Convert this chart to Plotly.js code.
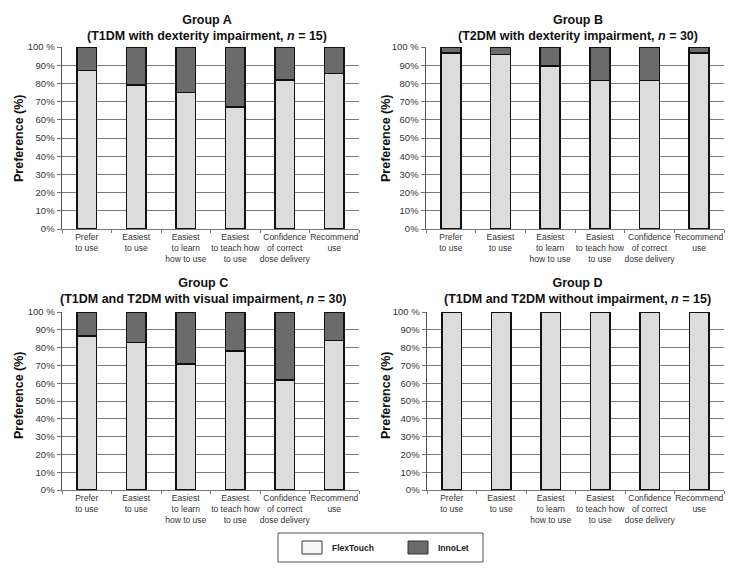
<!DOCTYPE html>
<html>
<head>
<meta charset="utf-8">
<script src="https://cdn.plot.ly/plotly-3.0.1.min.js"></script>
<style>html,body{margin:0;padding:0;background:#fff;}#chart{width:748px;height:578px;}</style>
</head>
<body>
<div id="chart"></div>
<script>
const categories = [
  "Prefer<br>to use",
  "Easiest<br>to use",
  "Easiest<br>to learn<br>how to use",
  "Easiest<br>to teach how<br>to use",
  "Confidence<br>of correct<br>dose delivery",
  "Recommend<br>use"
];
const seriesNames = ["FlexTouch", "InnoLet"];
const groupTitles = [
  "Group A<br>(T1DM with dexterity impairment, <i>n</i> = 15)",
  "Group B<br>(T2DM with dexterity impairment, <i>n</i> = 30)",
  "Group C<br>(T1DM and T2DM with visual impairment, <i>n</i> = 30)",
  "Group D<br>(T1DM and T2DM without impairment, <i>n</i> = 15)"
];
const flexA = [87, 79, 75, 67, 82, 85.5];
const innoA = [13, 21, 25, 33, 18, 14.5];
const flexB = [96.7, 96, 89.5, 81.7, 81.7, 96.7];
const innoB = [3.3, 4, 10.5, 18.3, 18.3, 3.3];
const flexC = [86.4, 83, 70.8, 78.1, 61.7, 84.1];
const innoC = [13.6, 17, 29.2, 21.9, 38.3, 15.9];
const flexD = [100, 100, 100, 100, 100, 100];
const innoD = [0, 0, 0, 0, 0, 0];
const yTickVals = [0, 10, 20, 30, 40, 50, 60, 70, 80, 90, 100];
const yTickText = ["0%", "10%", "20%", "30%", "40%", "50%", "60%", "70%", "80%", "90%", "100 %"];
const yTitle = "Preference (%)";

const W = 748, H = 578;
const px = x => x / W;
const py = y => 1 - y / H;

const flexColor = "#dcdcdc", innoColor = "#6b6b6b";
const groups = [[flexA, innoA], [flexB, innoB], [flexC, innoC], [flexD, innoD]];
const traces = [];
groups.forEach((g, i) => {
  const ax = i === 0 ? "" : String(i + 1);
  traces.push({type: "bar", x: categories, y: g[0], name: seriesNames[0], xaxis: "x" + ax, yaxis: "y" + ax,
    marker: {color: flexColor, line: {color: "#111", width: 1.5}}, showlegend: false, hoverinfo: "y"});
  traces.push({type: "bar", x: categories, y: g[1], name: seriesNames[1], xaxis: "x" + ax, yaxis: "y" + ax,
    marker: {color: innoColor, line: {color: "#111", width: 1.5}}, showlegend: false, hoverinfo: "y"});
});

const xDomains = [[px(62), px(359)], [px(426), px(724)], [px(62), px(359)], [px(427), px(724)]];
const yDomains = [[py(229), py(47)], [py(229), py(47)], [py(490), py(312)], [py(490), py(312)]];

const layout = {
  width: W, height: H,
  margin: {l: 0, r: 0, t: 0, b: 0},
  paper_bgcolor: "#fff", plot_bgcolor: "#fff",
  barmode: "stack", bargap: 0.6,
  font: {family: "Liberation Sans, Arial, sans-serif", color: "#222"},
  annotations: [], shapes: []
};
for (let i = 0; i < 4; i++) {
  const ax = i === 0 ? "" : String(i + 1);
  layout["xaxis" + ax] = {
    domain: xDomains[i], anchor: "y" + ax, type: "category",
    showline: true, linecolor: "#777", linewidth: 1,
    ticks: "outside", tickson: "boundaries", ticklen: 3, tickcolor: "#777",
    tickfont: {size: 8.5, color: "#333"}, showgrid: false, fixedrange: true, tickangle: 0
  };
  layout["yaxis" + ax] = {
    domain: yDomains[i], anchor: "x" + ax, range: [0, 100],
    tickvals: yTickVals, ticktext: yTickText,
    showline: true, linecolor: "#555", linewidth: 1.5,
    ticks: "outside", ticklen: 4, tickcolor: "#777",
    showgrid: true, gridcolor: "#7a7a7a", gridwidth: 1,
    zeroline: false, tickfont: {size: 9.5, color: "#333"}, fixedrange: true
  };
}
const titleX = [207, 578, 204, 577];
const titleY = [27.5, 27.5, 290.5, 290.5];
const yTitleX = [19, 386, 19, 386];
const yTitleY = [138, 138, 395, 395];
for (let i = 0; i < 4; i++) {
  layout.annotations.push({xref: "paper", yref: "paper", x: px(titleX[i]), y: py(titleY[i]),
    xanchor: "center", yanchor: "middle", showarrow: false, text: "<b>" + groupTitles[i] + "</b>",
    font: {size: 12.5, color: "#111"}});
  layout.annotations.push({xref: "paper", yref: "paper", x: px(yTitleX[i]), y: py(yTitleY[i]),
    xanchor: "center", yanchor: "middle", showarrow: false, textangle: -90, text: "<b>" + yTitle + "</b>",
    font: {size: 12.5, color: "#111"}});
}
// legend box
layout.shapes.push({type: "rect", xref: "paper", yref: "paper", x0: px(278), x1: px(483), y0: py(562), y1: py(533),
  line: {color: "#555", width: 1}, fillcolor: "rgba(0,0,0,0)"});
layout.shapes.push({type: "rect", xref: "paper", yref: "paper", x0: px(302), x1: px(322), y0: py(554), y1: py(541),
  line: {color: "#333", width: 1}, fillcolor: "#f7f7f7"});
layout.shapes.push({type: "rect", xref: "paper", yref: "paper", x0: px(408), x1: px(428), y0: py(554), y1: py(541),
  line: {color: "#333", width: 1}, fillcolor: innoColor});
layout.annotations.push({xref: "paper", yref: "paper", x: px(330), y: py(548), xanchor: "left", yanchor: "middle",
  showarrow: false, text: "<b>" + seriesNames[0] + "</b>", font: {family: "Liberation Sans, Arial, sans-serif", size: 8.5, color: "#222"}});
layout.annotations.push({xref: "paper", yref: "paper", x: px(436), y: py(548), xanchor: "left", yanchor: "middle",
  showarrow: false, text: "<b>" + seriesNames[1] + "</b>", font: {family: "Liberation Sans, Arial, sans-serif", size: 8.5, color: "#222"}});

Plotly.newPlot("chart", traces, layout, {displayModeBar: false, staticPlot: true});
</script>
</body>
</html>
